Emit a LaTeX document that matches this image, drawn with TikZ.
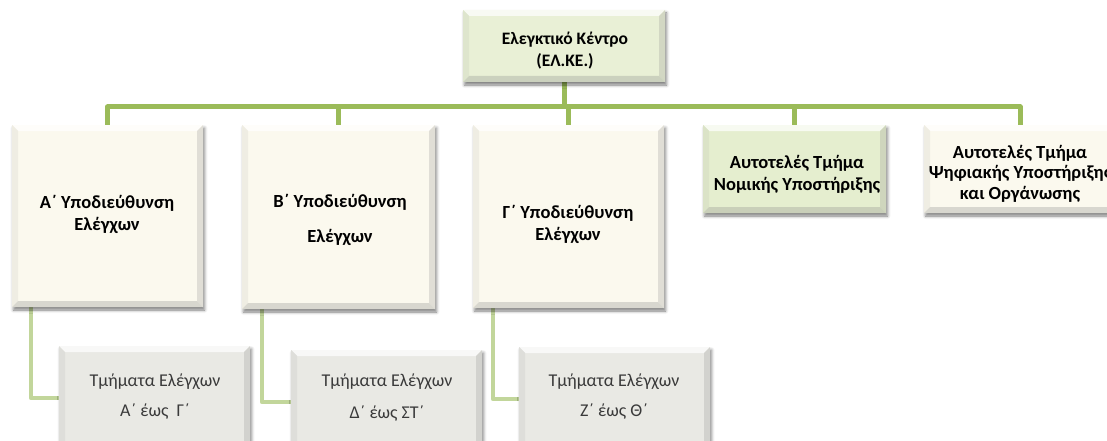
\documentclass[tikz,border=0pt]{standalone}
\usepackage{fontspec}
\setmainfont{Carlito}
\usetikzlibrary{calc,shadows.blur}
\definecolor{topfill}{HTML}{E9F0D6}
\definecolor{cream}{HTML}{FBF9EE}
\definecolor{greenfill}{HTML}{E5EECF}
\definecolor{subfill}{HTML}{E9E9E4}
\definecolor{barcol}{HTML}{9BBB59}
\definecolor{subcol}{HTML}{C2D69B}
\definecolor{subtext}{HTML}{3A3A3A}
\pgfdeclarelayer{background}
\pgfsetlayers{background,main}
\newcommand\bw{6}
\newcommand\bevel[2]{%
  \fill[#2!30!white] (#1.north west) -- (#1.north east) -- ([shift={(-\bw,\bw)}]#1.north east) -- ([shift={(\bw,\bw)}]#1.north west) -- cycle;
  \fill[#2!90!gray] (#1.north west) -- ([shift={(\bw,\bw)}]#1.north west) -- ([shift={(\bw,-\bw)}]#1.south west) -- (#1.south west) -- cycle;
  \fill[#2!78!gray] (#1.north east) -- ([shift={(-\bw,\bw)}]#1.north east) -- ([shift={(-\bw,-\bw)}]#1.south east) -- (#1.south east) -- cycle;
  \fill[#2!72!gray] (#1.south west) -- ([shift={(\bw,-\bw)}]#1.south west) -- ([shift={(-\bw,-\bw)}]#1.south east) -- (#1.south east) -- cycle;
}
\tikzset{
  box/.style={anchor=north west, inner sep=0pt, outer sep=0pt,
    blur shadow={shadow xshift=1.5pt, shadow yshift=-3pt, shadow blur radius=3pt, shadow opacity=50}},
  bold/.style={font=\bfseries\fontsize{18.5}{22}\selectfont, align=center, text=black, inner sep=0pt},
  reg/.style={font=\fontsize{18}{30}\selectfont, align=center, text=subtext, inner sep=0pt},
  mainline/.style={draw=barcol, line width=5pt, line join=round},
  subline/.style={draw=subcol, line width=4.5pt, line join=round},
}
\begin{document}
\begin{tikzpicture}[x=1pt,y=-1pt]
\useasboundingbox (0,0) rectangle (1107,441);
\clip (0,0) rectangle (1107,441);
\coordinate (bar) at (0,107);
\node[box, fill=topfill, minimum width=202pt, minimum height=72pt] (top) at (463,10) {};
\node[box, fill=cream, minimum width=191pt, minimum height=182pt] (A) at (12,125) {};
\node[box, fill=cream, minimum width=193pt, minimum height=184pt] (B) at (242,125) {};
\node[box, fill=cream, minimum width=191pt, minimum height=183pt] (C) at (473,125) {};
\node[box, fill=greenfill, minimum width=183pt, minimum height=88pt] (N) at (703,125) {};
\node[box, fill=cream, minimum width=192pt, minimum height=88pt] (R) at (924,125) {};
\node[box, fill=subfill, minimum width=191pt, minimum height=104pt] (As) at (59,346) {};
\node[box, fill=subfill, minimum width=191pt, minimum height=104pt] (Bs) at (291,350) {};
\node[box, fill=subfill, minimum width=191pt, minimum height=104pt] (Cs) at (519,347) {};
\bevel{top}{topfill}
\bevel{A}{cream}
\bevel{B}{cream}
\bevel{C}{cream}
\bevel{N}{greenfill}
\bevel{R}{cream}
\bevel{As}{subfill}
\bevel{Bs}{subfill}
\bevel{Cs}{subfill}
\begin{pgfonlayer}{background}
\foreach \n in {A,B,C,N,R}{
  \draw[mainline] (top.south) -- (top.south |- bar) -| (\n.north);
}
\draw[subline] ([xshift=19pt]A.south west) |- (As.west);
\draw[subline] ([xshift=20pt]B.south west) |- (Bs.west);
\draw[subline] ([xshift=20pt]C.south west) |- (Cs.west);
\end{pgfonlayer}
\node[bold, font=\bfseries\fontsize{17.5}{22}\selectfont] (toptxt) at (565,51) {Ελεγκτικό Κέντρο\\(ΕΛ.ΚΕ.)};
\node[bold] (Atxt) at (107,214) {Α΄ Υποδιεύθυνση\\Ελέγχων};
\node[bold, font=\bfseries\fontsize{18.5}{35}\selectfont] (Btxt) at (340,219.5) {Β΄ Υποδιεύθυνση\\Ελέγχων};
\node[bold] (Ctxt) at (568,224.5) {Γ΄ Υποδιεύθυνση\\Ελέγχων};
\node[bold] (Ntxt) at (797,174.5) {Αυτοτελές Τμήμα\\Νομικής Υποστήριξης};
\node[bold, font=\bfseries\fontsize{18.5}{20.5}\selectfont] (Rtxt) at (1020,173.5) {Αυτοτελές Τμήμα\\Ψηφιακής Υποστήριξης\\και Οργάνωσης};
\node[reg] (Astxt) at (155,397) {Τμήματα Ελέγχων\\Α΄ έως\ \ Γ΄};
\node[reg, font=\fontsize{18}{32}\selectfont] (Bstxt) at (387,398) {Τμήματα Ελέγχων\\Δ΄ έως ΣΤ΄};
\node[reg] (Cstxt) at (614,397) {Τμήματα Ελέγχων\\Ζ΄ έως Θ΄};
\end{tikzpicture}
\end{document}
